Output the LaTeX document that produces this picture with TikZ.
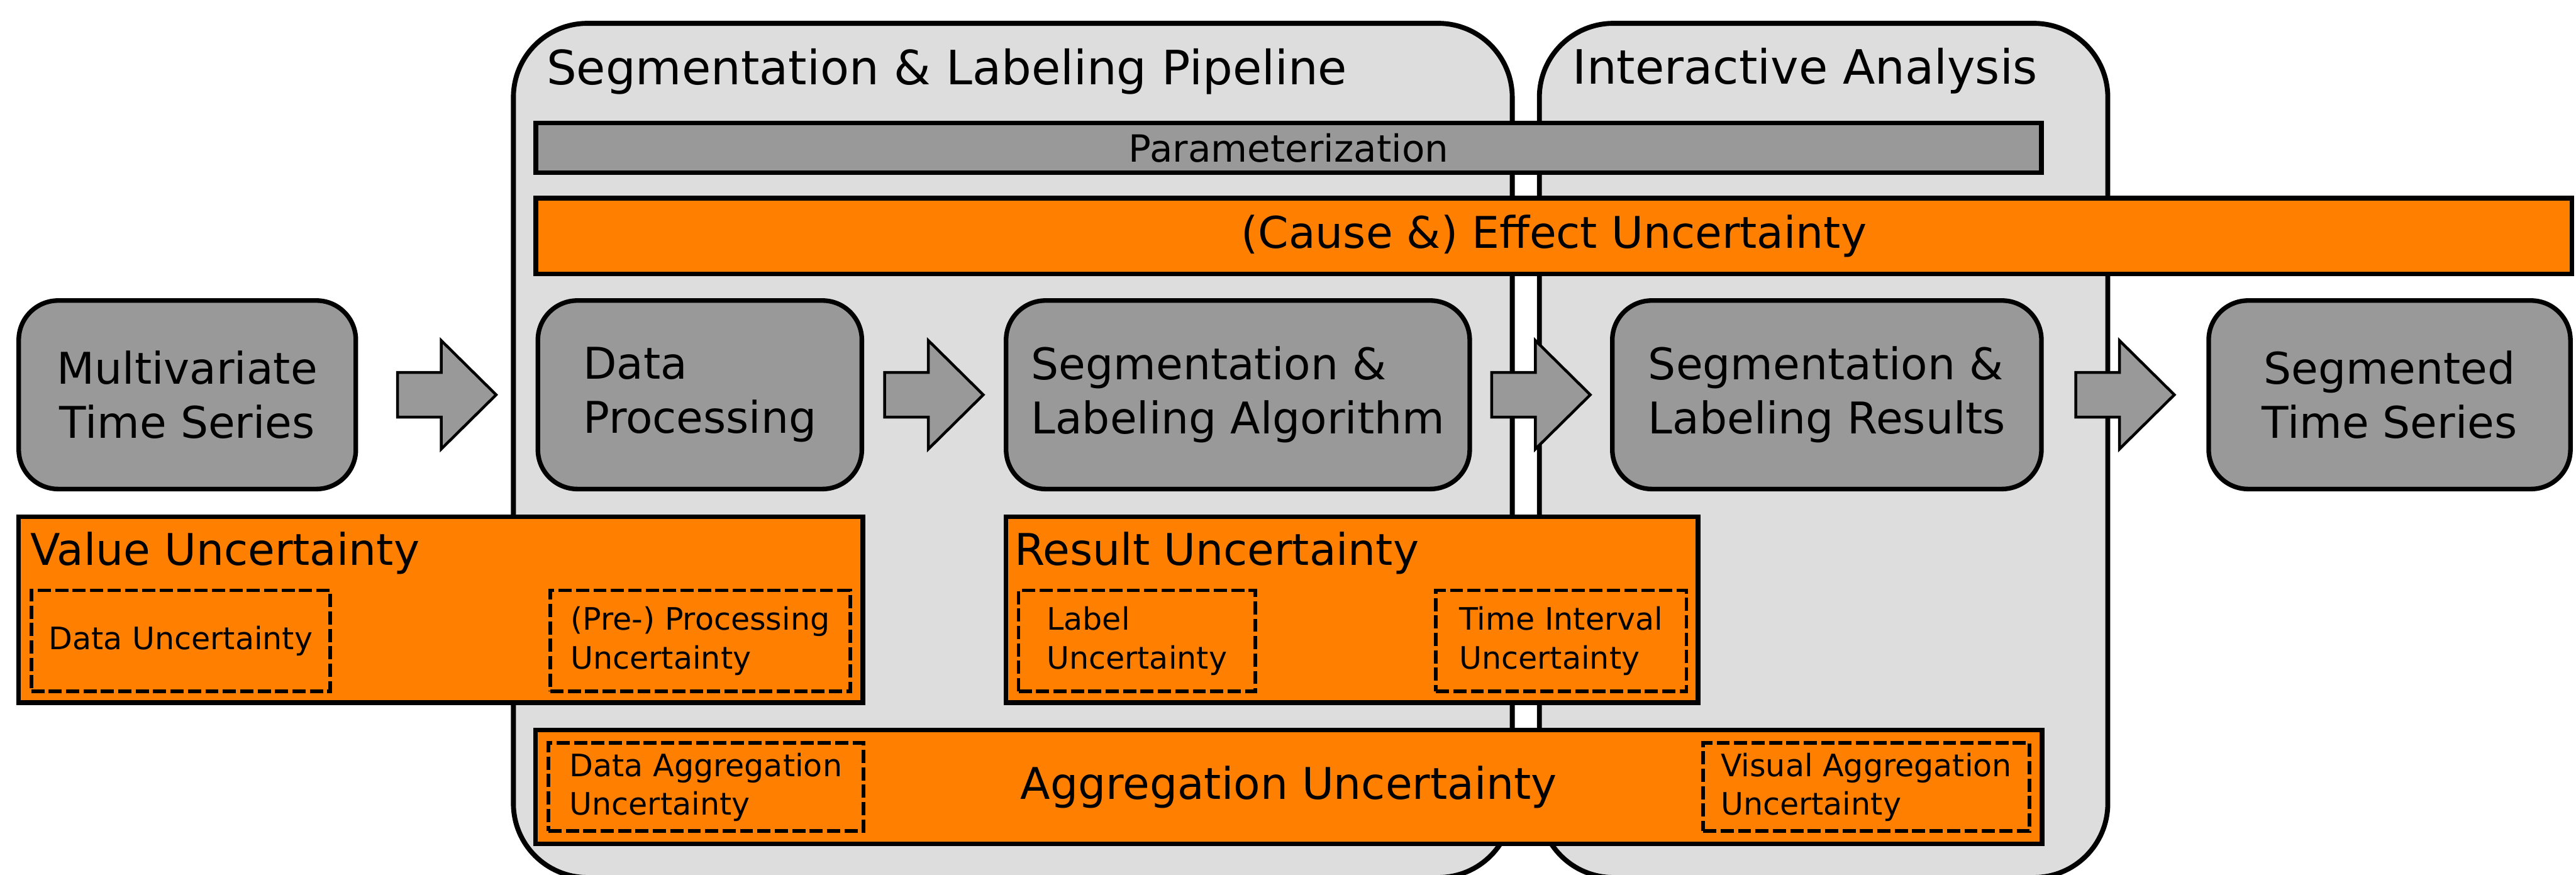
\documentclass[tikz,border=0pt]{standalone}
\usepackage{fontspec}
\setmainfont{DejaVu Sans}
\usetikzlibrary{calc}

\definecolor{uncorange}{RGB}{255,128,0}
\definecolor{stepgray}{RGB}{153,153,153}
\definecolor{panelgray}{RGB}{221,221,221}

\tikzset{
  panel/.style={draw, line width=3pt, fill=panelgray, rounded corners=45pt,
    anchor=north west, inner sep=0pt},
  paneltitle/.style={anchor=base west, inner sep=0pt, font=\fontsize{28.8}{34}\selectfont},
  bar/.style={draw, line width=2.8pt, inner sep=0pt},
  stepbox/.style={draw, line width=2.8pt, fill=stepgray, rounded corners=24pt,
    minimum height=114.7pt, inner sep=0pt, font=\fontsize{26.6}{33}\selectfont},
  uncbox/.style={draw, line width=2.8pt, fill=uncorange, inner sep=0pt},
  unctitle/.style={anchor=base west, inner sep=0pt, font=\fontsize{26.6}{33}\selectfont},
  subbox/.style={draw, line width=2.2pt, dash pattern=on 8pt off 2.6pt, inner sep=0pt,
    align=left, font=\fontsize{18.8}{23.6}\selectfont},
  blockarrow/.style={draw, line width=1.7pt, fill=stepgray, line join=miter},
}

% block arrow centred in the gap between two nodes
\newcommand{\flowarrow}[2]{%
  \coordinate (#1-#2) at ($(#1.east)!0.5!(#2.west)$);
  \draw[blockarrow] ($(#1-#2)+(-30,-13.6)$) -- ++(26.6,0) -- ++(0,-19.4)
    -- ($(#1-#2)+(30,0)$) -- ($(#1-#2)+(-3.4,33)$) -- ++(0,-19.4)
    -- ($(#1-#2)+(-30,13.6)$) -- cycle;
}

\begin{document}
\begin{tikzpicture}[x=1pt, y=-1pt]
\useasboundingbox (0,0) rectangle (1568,532.4);

% stage panels
\node[panel, minimum width=608pt, minimum height=519.8pt] (pipe) at (311,12.7) {};
\node[panel, minimum width=346pt, minimum height=519.8pt] (inter) at (935.5,12.7) {};
\node[paneltitle] (pipetitle) at (332.5,51.6) {Segmentation \& Labeling Pipeline};
\node[paneltitle] (intertitle) at (957.2,51) {Interactive Analysis};

% full-width bars
\node[bar, fill=stepgray, minimum width=916.4pt, minimum height=30.2pt,
  font=\fontsize{22.8}{28}\selectfont] (param) at (784.4,89.9) {Parameterization};
\node[bar, fill=uncorange, minimum width=1239.4pt, minimum height=46pt,
  font=\fontsize{26.6}{33}\selectfont] (cause) at (945.9,143.6) {(Cause \&) Effect Uncertainty};

% processing steps
\node[stepbox, minimum width=205.2pt, align=center] (mts) at (114,240.25) {Multivariate\\Time Series};
\node[stepbox, minimum width=197.2pt, align=left] (dp) at (426,240.25) {Data\\Processing};
\node[stepbox, minimum width=282.2pt, align=left] (sla) at (753.5,240.25) {Segmentation \&\\Labeling Algorithm};
\node[stepbox, minimum width=261.2pt, align=left] (slr) at (1112,240.25) {Segmentation \&\\Labeling Results};
\node[stepbox, minimum width=220.2pt, align=center] (st) at (1454.5,240.25) {Segmented\\Time Series};

\flowarrow{mts}{dp}
\flowarrow{dp}{sla}
\flowarrow{sla}{slr}
\flowarrow{slr}{st}

% value uncertainty
\node[uncbox, minimum width=513.8pt, minimum height=113.2pt] (value) at (268.3,371) {};
\node[unctitle] (valuetitle) at (18.3,344) {Value Uncertainty};
\node[subbox, minimum width=182pt, minimum height=61.4pt] (du) at (110,390) {Data Uncertainty};
\node[subbox, minimum width=182.5pt, minimum height=61.4pt] (ppu) at (426.25,390) {(Pre-) Processing\\Uncertainty};

% result uncertainty
\node[uncbox, minimum width=421.4pt, minimum height=113.2pt] (result) at (822.9,371) {};
\node[unctitle] (resulttitle) at (617.5,344) {Result Uncertainty};
\node[subbox, minimum width=144pt, minimum height=61.4pt] (lu) at (692,390) {Label\\Uncertainty};
\node[subbox, minimum width=152.5pt, minimum height=61.4pt] (tiu) at (950.25,390) {Time Interval\\Uncertainty};

% aggregation uncertainty
\node[uncbox, minimum width=917pt, minimum height=69.3pt,
  font=\fontsize{26.6}{33}\selectfont] (agg) at (784.5,479) {Aggregation Uncertainty};
\node[subbox, minimum width=191.7pt, minimum height=53.6pt] (dau) at (429.65,479) {Data Aggregation\\Uncertainty};
\node[subbox, minimum width=198.6pt, minimum height=53.6pt] (vau) at (1136,479) {Visual Aggregation\\Uncertainty};
\end{tikzpicture}
\end{document}
